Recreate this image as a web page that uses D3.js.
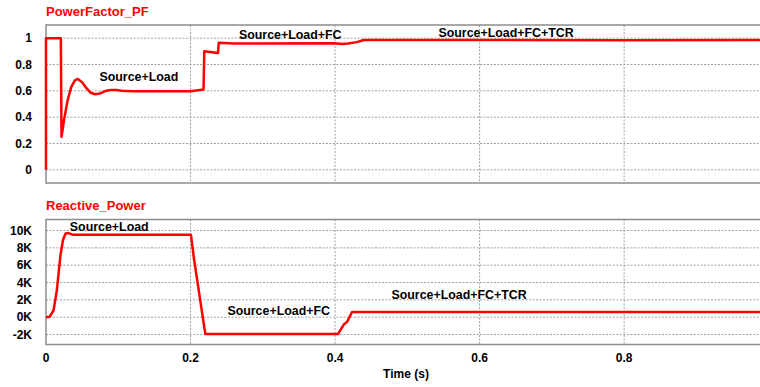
<!DOCTYPE html>
<html lang="en">
<head>
    <meta charset="UTF-8">
    <title>Power Factor and Reactive Power</title>
    <script src="https://cdnjs.cloudflare.com/ajax/libs/d3/7.8.5/d3.min.js"></script>
    <style>
        body { margin: 0; padding: 0; background: #ffffff; font-family: Arial, "Liberation Sans", sans-serif; }
        .grid line { stroke: #a0a0a0; stroke-width: 1; stroke-dasharray: 2,1.5; }
        .tick-label { font-size: 12px; font-weight: bold; fill: #000; }
        .note { font-size: 12.4px; font-weight: bold; fill: #000; }
        .title { font-size: 13px; font-weight: bold; fill: #ff0000; }
    </style>
</head>
<body>
    <div id="chart"></div>
    <script>
        // time (s) and power factor
        const pfTime = [0, 0, 0.0205, 0.0215, 0.025, 0.03, 0.035, 0.04, 0.044, 0.05, 0.056, 0.062, 0.068, 0.075, 0.083, 0.09, 0.097, 0.105, 0.12, 0.2, 0.218, 0.219, 0.238, 0.239, 0.26, 0.4, 0.41, 0.418, 0.43, 0.44, 0.6, 0.8, 0.99];
        const pfValue = [0, 1, 1, 0.25, 0.38, 0.53, 0.63, 0.68, 0.69, 0.665, 0.62, 0.585, 0.574, 0.58, 0.6, 0.607, 0.607, 0.6, 0.596, 0.597, 0.61, 0.9, 0.887, 0.965, 0.96, 0.962, 0.955, 0.96, 0.97, 0.986, 0.987, 0.985, 0.986];

        // time (s) and reactive power (K)
        const qTime = [0, 0.005, 0.0105, 0.015, 0.0198, 0.0235, 0.027, 0.031, 0.036, 0.04, 0.2005, 0.205, 0.2205, 0.404, 0.412, 0.4166, 0.4235, 0.99];
        const qValue = [0, 0.05, 0.8, 3.1, 7.0, 8.9, 9.65, 9.7, 9.55, 9.52, 9.52, 6.6, -1.95, -1.95, -0.85, -0.54, 0.6, 0.6];

        const timeTicks = [0, 0.2, 0.4, 0.6, 0.8];
        const pfTicks = [0, 0.2, 0.4, 0.6, 0.8, 1];
        const qTicks = [-2, 0, 2, 4, 6, 8, 10];

        const pfNotes = [{text: "Source+Load", t: 0.074, v: 0.705},
                         {text: "Source+Load+FC", t: 0.267, v: 1.025},
                         {text: "Source+Load+FC+TCR", t: 0.543, v: 1.04}];
        const qNotes = [{text: "Source+Load", t: 0.033, v: 10.4},
                        {text: "Source+Load+FC", t: 0.251, v: 0.8},
                        {text: "Source+Load+FC+TCR", t: 0.478, v: 2.6}];

        const width = 760, height = 387;
        const left = 46, right = 760;

        const svg = d3.select("#chart").append("svg")
            .attr("width", width)
            .attr("height", height);

        const x = d3.scaleLinear().domain([0, 0.988]).range([left, right]);

        function panel(opts) {
            const y = d3.scaleLinear().domain(opts.domain).range([opts.bottom, opts.top]);
            const g = svg.append("g");

            // horizontal grid
            g.append("g").attr("class", "grid")
                .selectAll("line").data(opts.ticks).join("line")
                .attr("x1", left).attr("x2", right)
                .attr("y1", d => y(d)).attr("y2", d => y(d));
            // vertical grid
            g.append("g").attr("class", "grid")
                .selectAll("line").data(timeTicks.slice(1)).join("line")
                .attr("x1", d => x(d)).attr("x2", d => x(d))
                .attr("y1", opts.top).attr("y2", opts.bottom);

            // frame
            g.append("rect")
                .attr("x", left).attr("y", opts.top)
                .attr("width", right - left + 2).attr("height", opts.bottom - opts.top)
                .attr("fill", "none").attr("stroke", "#8c8c8c").attr("stroke-width", 1.5);

            // y tick labels
            g.selectAll(".ylab").data(opts.ticks).join("text")
                .attr("class", "tick-label")
                .attr("x", 32).attr("y", d => y(d))
                .attr("dy", "0.35em")
                .attr("text-anchor", "end")
                .text(opts.format);

            // title
            g.append("text").attr("class", "title")
                .attr("x", left).attr("y", opts.top - 14)
                .attr("dy", "0.35em")
                .text(opts.title);

            // series
            const pts = opts.xs.map((t, i) => [t, opts.ys[i]]);
            g.append("path")
                .datum(pts)
                .attr("fill", "none")
                .attr("stroke", "#ff0000")
                .attr("stroke-width", 2.5)
                .attr("stroke-linejoin", "round")
                .attr("d", d3.line().x(d => x(d[0])).y(d => y(d[1])));

            // annotations
            g.selectAll(".note").data(opts.notes).join("text")
                .attr("class", "note")
                .attr("x", d => x(d.t)).attr("y", d => y(d.v))
                .attr("dy", "0.35em")
                .text(d => d.text);
            return y;
        }

        panel({
            title: "PowerFactor_PF", top: 25, bottom: 183, domain: [-0.1, 1.1],
            ticks: pfTicks, format: d => d3.format("")(+d.toFixed(1)),
            xs: pfTime, ys: pfValue, notes: pfNotes
        });

        panel({
            title: "Reactive_Power", top: 219.5, bottom: 344.5, domain: [-3.15, 11.27],
            ticks: qTicks, format: d => d + "K",
            xs: qTime, ys: qValue, notes: qNotes
        });

        // x tick labels
        svg.selectAll(".xlab").data(timeTicks).join("text")
            .attr("class", "tick-label")
            .attr("x", d => x(d)).attr("y", 358)
            .attr("dy", "0.35em")
            .attr("text-anchor", "middle")
            .text(d => d3.format("")(+d.toFixed(1)));

        svg.append("text")
            .attr("class", "tick-label")
            .attr("x", 406).attr("y", 374)
            .attr("dy", "0.35em")
            .attr("text-anchor", "middle")
            .text("Time (s)");
    </script>
</body>
</html>
